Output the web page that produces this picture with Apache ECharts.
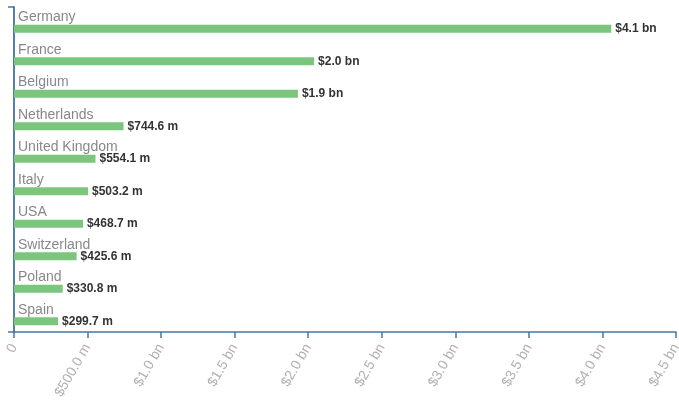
<!DOCTYPE html>
<html>
<head>
<meta charset="utf-8">
<script src="https://cdn.jsdelivr.net/npm/echarts@6/dist/echarts.min.js"></script>
<style>
  html, body { margin: 0; padding: 0; background: #fff; }
  #chart { width: 679px; height: 400px; }
</style>
</head>
<body>
<div id="chart"></div>
<script>
// countries, top to bottom
var countries = ['Germany', 'France', 'Belgium', 'Netherlands', 'United Kingdom',
  'Italy', 'USA', 'Switzerland', 'Poland', 'Spain'];
// values in dollars
var values = [4.06e9, 2.04e9, 1.93e9, 744.6e6, 554.1e6, 503.2e6, 468.7e6, 425.6e6, 330.8e6, 299.7e6];
var xMax = 4.5e9;
var xStep = 0.5e9;

function money(v) {
  if (v === 0) return '0';
  if (v >= 1e9) return '$' + (v / 1e9).toFixed(1) + ' bn';
  return '$' + (v / 1e6).toFixed(1) + ' m';
}

var axisColor = '#4777a6';
var myChart = echarts.init(document.getElementById('chart'));
myChart.setOption({
  animation: false,
  grid: { left: 14, right: 3, top: 7, bottom: 68, outerBoundsMode: 'none', containLabel: false },
  xAxis: {
    type: 'value',
    min: 0,
    max: xMax,
    interval: xStep,
    axisLine: { show: true, lineStyle: { color: axisColor, width: 1.5 } },
    axisTick: { show: true, length: 6, lineStyle: { color: axisColor, width: 1.5 } },
    splitLine: { show: false },
    axisLabel: {
      rotate: 60,
      margin: 13,
      color: '#b0b0b0',
      fontSize: 14,
      fontFamily: 'Liberation Sans, Arial, sans-serif',
      formatter: money
    }
  },
  yAxis: [
    {
      type: 'category',
      data: countries,
      inverse: true,
      axisLine: { show: true, lineStyle: { color: axisColor, width: 1.5 } },
      axisTick: { show: false },
      axisLabel: {
        inside: true,
        margin: 4,
        verticalAlign: 'bottom',
        padding: [0, 0, -1, 0],
        color: '#888',
        fontSize: 14,
        fontFamily: 'Liberation Sans, Arial, sans-serif'
      }
    },
    {
      // outer ticks at both ends of the band axis
      type: 'value',
      position: 'left',
      min: 0,
      max: 1,
      interval: 1,
      axisLine: { show: true, lineStyle: { color: axisColor, width: 1.5 } },
      axisTick: { show: true, length: 6, lineStyle: { color: axisColor, width: 1.5 } },
      axisLabel: { show: false },
      splitLine: { show: false }
    }
  ],
  series: [
    {
      // spacer so the real bar sits in the lower part of each band
      type: 'bar',
      yAxisIndex: 0,
      barWidth: 8,
      barGap: '40%',
      silent: true,
      itemStyle: { color: 'rgba(0,0,0,0)' },
      data: countries.map(function () { return 0; })
    },
    {
      type: 'bar',
      yAxisIndex: 0,
      barWidth: 8,
      barGap: '40%',
      itemStyle: { color: '#7bc67c' },
      label: {
        show: true,
        position: 'right',
        distance: 4,
        color: '#333',
        fontWeight: 'bold',
        fontSize: 12,
        fontFamily: 'Liberation Sans, Arial, sans-serif',
        formatter: function (p) { return money(p.value); }
      },
      data: values
    }
  ]
});
</script>
</body>
</html>
